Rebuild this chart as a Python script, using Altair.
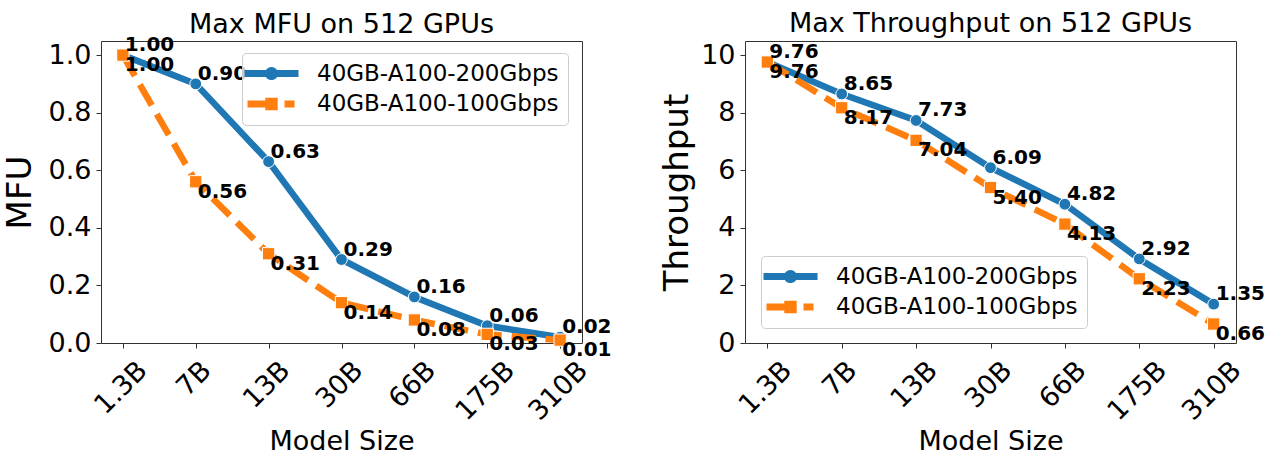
import altair as alt
import pandas as pd

# Model sizes on the x axis and the two network configurations
models = ["1.3B", "7B", "13B", "30B", "66B", "175B", "310B"]
series = ["40GB-A100-200Gbps", "40GB-A100-100Gbps"]

# Max MFU on 512 GPUs
mfu_200 = [1.00, 0.90, 0.63, 0.29, 0.16, 0.06, 0.02]
mfu_100 = [1.00, 0.56, 0.31, 0.14, 0.08, 0.03, 0.01]

# Max throughput on 512 GPUs
tp_200 = [9.76, 8.65, 7.73, 6.09, 4.82, 2.92, 1.35]
tp_100 = [9.76, 8.17, 7.04, 5.40, 4.13, 2.23, 0.66]

BLUE, ORANGE = "#1f77b4", "#ff7f0e"
FONT = "DejaVu Sans"

# legend glyphs: thick line with the series marker on it (pixel units, size=4)
SYM_BLUE = ("M-27,-3.4 L-5,-3.4 L-5,3.4 L-27,3.4 Z "
            "M5,-3.4 L27,-3.4 L27,3.4 L5,3.4 Z "
            "M6.6,0 A6.6,6.6 0 1,1 -6.6,0 A6.6,6.6 0 1,1 6.6,0 Z")
SYM_ORANGE = ("M-24,-3.4 L-1,-3.4 L-1,3.4 L-24,3.4 Z "
              "M-6.2,-6.2 L6.2,-6.2 L6.2,6.2 L-6.2,6.2 Z "
              "M13,-3.4 L23,-3.4 L23,3.4 L13,3.4 Z")

# shift of the rotated tick labels so each one ends just right of its tick
label_shift = {"1.3B": 19.7, "7B": 10.6, "175B": 22.7, "310B": 22.7}


def table(v_hi, v_lo):
    rows = []
    for m, a, b in zip(models, v_hi, v_lo):
        rows.append({"model": m, "series": series[0], "value": a})
        rows.append({"model": m, "series": series[1], "value": b})
    return pd.DataFrame(rows)


def panel(df, title, title_offset, ytitle, ymax, ytick_values, yfmt, width,
          legend_x, legend_y, ytitle_x):
    x = alt.X(
        "model:N", sort=models,
        scale=alt.Scale(type="point", padding=0.3),
        axis=alt.Axis(
            title="Model Size", labelAngle=-45, labelAlign="right",
            labelBaseline="middle", labelPadding=18,
            labelOffset={
                "condition": [
                    {"test": f"datum.value === '{k}'", "value": v}
                    for k, v in label_shift.items()
                ],
                "value": 16.6,
            },
            titleY=106, titleBaseline="alphabetic",
        ),
    )
    y = alt.Y(
        "value:Q",
        scale=alt.Scale(domain=[0, ymax], nice=False, zero=True),
        axis=alt.Axis(
            title=ytitle, values=ytick_values, format=yfmt,
            labelPadding=5, titleFontSize=34, titleAngle=270,
            titleX=ytitle_x, titleY=151, titleAlign="center",
            titleBaseline="alphabetic",
        ),
    )

    base = alt.Chart(df)
    hi = base.transform_filter(alt.datum.series == series[0])
    lo = base.transform_filter(alt.datum.series == series[1])

    line_hi = hi.mark_line(color=BLUE, strokeWidth=6.5).encode(x=x, y=y)
    pts_hi = hi.mark_point(shape="circle", filled=True, size=139, color=BLUE,
                           stroke="white", strokeWidth=1, opacity=1).encode(x=x, y=y)
    line_lo = lo.mark_line(color=ORANGE, strokeWidth=6.5,
                           strokeDash=[24, 10]).encode(x=x, y=y)
    pts_lo = lo.mark_point(shape="square", filled=True, size=151, color=ORANGE,
                           stroke="white", strokeWidth=1, opacity=1).encode(x=x, y=y)

    text_style = dict(font=FONT, fontWeight="bold", fontSize=20, color="black",
                      align="left", baseline="alphabetic", dx=2)
    lab_hi = hi.mark_text(dy=-4, **text_style).encode(
        x=x, y=y, text=alt.Text("value:Q", format=".2f"))
    lab_lo = lo.mark_text(dy=16, **text_style).encode(
        x=x, y=y, text=alt.Text("value:Q", format=".2f"))

    legend = alt.Legend(
        title=None, orient="none", legendX=legend_x, legendY=legend_y,
        direction="vertical", labelFont=FONT, labelFontSize=23,
        labelColor="black", labelLimit=400,
        symbolSize=4, symbolOffset=9, labelOffset=34,
        symbolStrokeWidth=0, symbolOpacity=1,
        rowPadding=6.5, padding=9, cornerRadius=4,
        strokeColor="#cccccc", fillColor="rgba(255,255,255,0.8)",
    )
    key = base.transform_filter("false").mark_point(filled=True, opacity=1).encode(
        x=x, y=y,
        color=alt.Color("series:N",
                        scale=alt.Scale(domain=series, range=[BLUE, ORANGE]),
                        legend=legend),
        shape=alt.Shape("series:N",
                        scale=alt.Scale(domain=series, range=[SYM_BLUE, SYM_ORANGE]),
                        legend=legend),
    )

    return alt.layer(line_hi, pts_hi, line_lo, pts_lo, lab_hi, lab_lo, key).properties(
        width=width, height=302,
        title=alt.TitleParams(text=title, font=FONT, fontSize=27,
                              fontWeight="normal", color="black", frame="group",
                              offset=title_offset, baseline="alphabetic",
                              anchor="middle"),
    )


left = panel(table(mfu_200, mfu_100), "Max MFU on 512 GPUs", -25, "MFU", 1.049,
             [0, 0.2, 0.4, 0.6, 0.8, 1.0], ".1f", 481, 141, 12, -71)
right = panel(table(tp_200, tp_100), "Max Throughput on 512 GPUs", -18, "Throughput",
              10.49, [0, 2, 4, 6, 8, 10], "d", 491, 16, 215, -58)

chart = (
    alt.hconcat(left, right, spacing=163, bounds="flush")
    .resolve_scale(color="independent", shape="independent")
    .resolve_legend(color="independent", shape="independent")
    .properties(
        autosize=alt.AutoSizeParams(type="pad"),
        padding={"left": 2, "top": 9, "right": 0, "bottom": 0},
    )
    .configure(font=FONT)
    .configure_view(stroke="#333333", strokeWidth=1)
    .configure_axis(
        grid=False, domain=False, ticks=True, tickSize=5, tickColor="#333333",
        tickWidth=1, labelFont=FONT, labelFontSize=27, labelColor="black",
        titleFont=FONT, titleFontSize=27, titleFontWeight="normal",
        titleColor="black",
    )
)

chart.save("out.html", embed_options={"renderer": "svg", "actions": False})
